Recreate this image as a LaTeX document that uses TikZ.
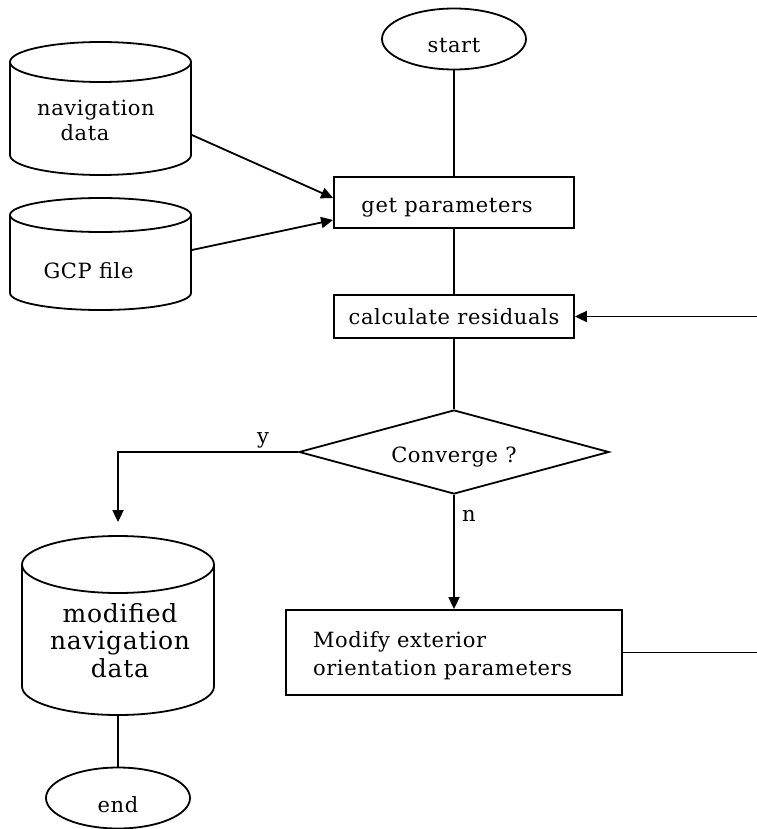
\documentclass[tikz,border=0pt]{standalone}
\usepackage{fontspec}
\setmainfont{DejaVu Serif}[LetterSpace=3]
\usetikzlibrary{shapes.geometric,arrows.meta,calc}
\begin{document}
\begin{tikzpicture}[x=1pt,y=-1pt, line width=1.8pt,
  every node/.style={font=\fontsize{21}{25}\selectfont},
  box/.style={draw, rectangle, inner sep=0pt},
  term/.style={draw, ellipse, inner sep=0pt, minimum width=144pt, minimum height=61pt,
               text height=28pt, text depth=0pt},
  hole/.style={rectangle, inner sep=0pt},
  txt/.style={inner sep=0pt, align=center},
  arr/.style={-{Triangle[length=12pt,width=11pt]}}]
\useasboundingbox (0,0) rectangle (756,829);

% start / end terminals
\node[term] (start) at (454,39) {start};
\node[term] (end) at (118,798) {end};

% process boxes
\node[box, minimum width=240pt, minimum height=51pt, text height=20pt, text depth=0pt] (get) at (454,202.5) {get parameters\hspace*{14pt}};
\node[box, minimum width=240pt, minimum height=43pt] (calc) at (454,316.5) {calculate residuals};
\node[box, minimum width=336pt, minimum height=85pt, text width=282pt, inner xsep=27pt, align=left,
      font=\fontsize{21}{28}\selectfont] (mod) at (454,652.5) {\rule{0pt}{22pt}Modify exterior\\orientation parameters};

% decision
\node[draw, diamond, aspect=3.69, inner sep=0pt, minimum width=310pt, minimum height=84pt,
      text height=20pt, text depth=0pt] (conv) at (454,452) {Converge ?};

% cylinder: navigation data
\draw (10,62) -- (10,155) arc[start angle=180, end angle=0, x radius=90.5, y radius=20] -- (191,62);
\draw (100.5,62) ellipse [x radius=90.5, y radius=20];
\node[hole, minimum width=181pt, minimum height=133pt] (nav) at (100.5,108.5) {};
\node[txt] (navtxt) at (96,120) {navigation\\data\hspace*{22pt}};

% cylinder: GCP file
\draw (10,215) -- (10,293) arc[start angle=180, end angle=0, x radius=90.5, y radius=17] -- (191,215);
\draw (100.5,215) ellipse [x radius=90.5, y radius=17];
\node[hole, minimum width=181pt, minimum height=112pt] (gcp) at (100.5,254) {};
\node[txt] (gcptxt) at (88.5,271) {GCP file};

% cylinder: modified navigation data
\draw (22,564.5) -- (22,686.5) arc[start angle=180, end angle=0, x radius=96, y radius=28.5] -- (214,564.5);
\draw (118,564.5) ellipse [x radius=96, y radius=28.5];
\node[hole, minimum width=192pt, minimum height=179pt] (modnav) at (118,625.5) {};
\node[txt, font=\fontsize{25}{27.5}\selectfont] (modtxt) at (120,640.5) {modified\\navigation\\data};

% connectors
\draw (start) -- (start |- get.north);
\draw (get.south -| calc) -- (calc);
\draw (calc) -- (conv.north);
\draw[arr] ($(nav.east)+(0,26.5)$) -- ($(get.west)+(0,-4.5)$);
\draw[arr] ($(gcp.east)+(0,-4)$) -- ($(get.west)+(0,17.5)$);
\draw[arr, shorten >=13pt] (conv.west) -| (modnav.north);
\draw[arr] (conv.south) -- (conv.south |- mod.north);
\draw[arr] (mod.east) -- (775,652.5) |- (calc.east);
\draw (modnav.south) -- (end.north);

% branch labels
\node[txt] (ylbl) at (263,440) {y};
\node[txt] (nlbl) at (469,516) {n};
\end{tikzpicture}
\end{document}
